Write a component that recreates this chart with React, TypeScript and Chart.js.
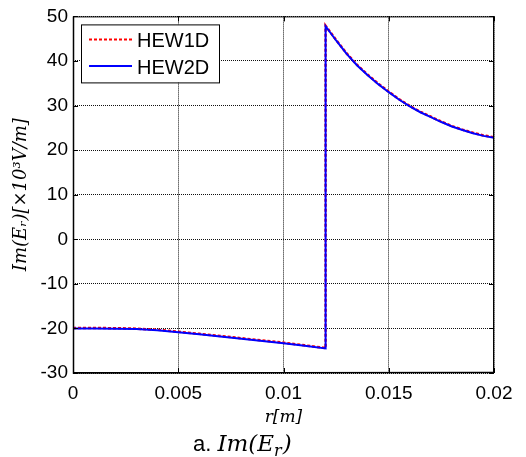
import React, { useEffect, useRef } from "react";
import { Chart, registerables } from "chart.js";

Chart.register(...registerables);

// r positions [m] (the jump at r = 0.012 appears twice)
const rValues = [
  0, 0.001, 0.002, 0.003, 0.004, 0.005, 0.006, 0.007, 0.008, 0.009, 0.01, 0.011, 0.012,
  0.012, 0.0125, 0.013, 0.0135, 0.014, 0.0145, 0.015, 0.0155, 0.016, 0.0165, 0.017,
  0.0175, 0.018, 0.0185, 0.019, 0.0195, 0.02,
];
const hew1d = [
  -19.9, -19.9, -19.95, -20.05, -20.3, -20.75, -21.2, -21.7, -22.2, -22.7, -23.2, -23.8, -24.4,
  47.9, 44.7, 41.7, 39.1, 36.9, 34.9, 33.1, 31.4, 29.9, 28.6, 27.5, 26.4, 25.4, 24.6, 23.9, 23.3, 22.9,
];
const hew2d = [
  -20.0, -20.0, -20.05, -20.15, -20.4, -20.85, -21.3, -21.8, -22.3, -22.8, -23.3, -23.9, -24.5,
  47.8, 44.6, 41.6, 39.0, 36.8, 34.8, 33.0, 31.3, 29.8, 28.5, 27.4, 26.3, 25.3, 24.5, 23.8, 23.2, 22.8,
];
const xTickValues = [0, 0.005, 0.01, 0.015, 0.02];
const xTickLabels = ["0", "0.005", "0.01", "0.015", "0.02"];
const yTickValues = [-30, -20, -10, 0, 10, 20, 30, 40, 50];
const yTickLabels = ["-30", "-20", "-10", "0", "10", "20", "30", "40", "50"];
const seriesNames = ["HEW1D", "HEW2D"];
const yTitle = "Im(E\u1D63)[\u00D710\u00B3V/m]";
const xTitle = "r[m]";

const SANS = "'Liberation Sans', Arial, Helvetica, sans-serif";
const SERIF = "'DejaVu Serif', 'Liberation Serif', serif";

const overlayPlugin = {
  id: "matlabOverlay",
  afterDraw(chart: any) {
    const { ctx, chartArea } = chart;
    const { left, right, top, bottom } = chartArea;
    const xs = chart.scales.x;
    const ys = chart.scales.y;
    ctx.save();
    // frame
    ctx.setLineDash([]);
    ctx.strokeStyle = "#000";
    ctx.lineWidth = 1;
    ctx.strokeRect(left + 0.5, top + 0.5, right - left - 1, bottom - top - 1);
    ctx.lineWidth = 1.5;
    ctx.beginPath();
    ctx.moveTo(left + 0.5, top);
    ctx.lineTo(left + 0.5, bottom);
    ctx.lineTo(right, bottom - 0.5);
    ctx.stroke();
    // inward ticks
    ctx.lineWidth = 1;
    ctx.beginPath();
    xTickValues.forEach((v) => {
      const px = Math.round(xs.getPixelForValue(v)) + 0.5;
      ctx.moveTo(px, bottom);
      ctx.lineTo(px, bottom - 5);
      ctx.moveTo(px, top);
      ctx.lineTo(px, top + 5);
    });
    yTickValues.forEach((v) => {
      const py = Math.round(ys.getPixelForValue(v)) + 0.5;
      ctx.moveTo(left, py);
      ctx.lineTo(left + 5, py);
      ctx.moveTo(right, py);
      ctx.lineTo(right - 5, py);
    });
    ctx.stroke();

    // legend
    const lx = left + 8;
    const ly = top + 8;
    const lw = 138;
    const lh = 58;
    ctx.fillStyle = "#fff";
    ctx.fillRect(lx, ly, lw, lh);
    ctx.strokeStyle = "#000";
    ctx.lineWidth = 1;
    ctx.strokeRect(lx + 0.5, ly + 0.5, lw, lh);
    const rows = [
      { name: seriesNames[0], color: "#ff0000", dash: [3, 2], y: ly + 15 },
      { name: seriesNames[1], color: "#0000ff", dash: [], y: ly + 41.5 },
    ];
    rows.forEach((r) => {
      ctx.strokeStyle = r.color;
      ctx.lineWidth = 2;
      ctx.setLineDash(r.dash);
      ctx.beginPath();
      ctx.moveTo(lx + 8, r.y);
      ctx.lineTo(lx + 51, r.y);
      ctx.stroke();
      ctx.setLineDash([]);
      ctx.fillStyle = "#000";
      ctx.font = `20px ${SANS}`;
      ctx.textBaseline = "middle";
      ctx.textAlign = "left";
      ctx.fillText(r.name, lx + 56, r.y + 2.5);
    });

    // caption "a. Im(E_r)"
    let cx = 193;
    const cy = 451;
    ctx.textBaseline = "alphabetic";
    ctx.fillStyle = "#000";
    ctx.font = `22px ${SANS}`;
    ctx.fillText("a. ", cx, cy);
    cx += ctx.measureText("a. ").width;
    ctx.font = `italic 23px ${SERIF}`;
    ctx.fillText("Im(E", cx, cy);
    cx += ctx.measureText("Im(E").width;
    ctx.font = `italic 16px ${SERIF}`;
    ctx.fillText("r", cx, cy + 5);
    cx += ctx.measureText("r").width + 1;
    ctx.font = `italic 23px ${SERIF}`;
    ctx.fillText(")", cx, cy);
    ctx.restore();
  },
};

export default function App() {
  const canvasRef = useRef<HTMLCanvasElement | null>(null);

  useEffect(() => {
    if (!canvasRef.current) return;
    const chart = new Chart(canvasRef.current, {
      type: "line",
      data: {
        datasets: [
          {
            label: seriesNames[1],
            data: rValues.map((r, i) => ({ x: r, y: hew2d[i] })),
            borderColor: "#0000ff",
            borderWidth: 2,
            pointRadius: 0,
            tension: 0,
            order: 0,
          },
          {
            label: seriesNames[0],
            data: rValues.map((r, i) => ({ x: r, y: hew1d[i] })),
            borderColor: "#ff0000",
            borderWidth: 2.5,
            borderDash: [3, 2],
            pointRadius: 0,
            tension: 0,
            order: 1,
          },
        ],
      },
      options: {
        animation: false,
        responsive: true,
        maintainAspectRatio: false,
        layout: { padding: { top: 13, right: 32, left: 0, bottom: 0 } },
        plugins: {
          legend: { display: false },
          tooltip: { enabled: false },
        },
        scales: {
          x: {
            type: "linear",
            min: 0,
            max: 0.02,
            afterBuildTicks: (scale: any) => {
              scale.ticks = xTickValues.map((v) => ({ value: v }));
            },
            afterFit: (scale: any) => {
              scale.height = 84;
            },
            ticks: {
              font: { family: SANS, size: 19 },
              color: "#000",
              padding: 9,
              maxRotation: 0,
              autoSkip: false,
              callback: (_v: any, i: number) => xTickLabels[i],
            },
            grid: { color: "#111", lineWidth: 1, drawTicks: false },
            border: { display: false, dash: [1, 1] },
            title: {
              display: true,
              text: xTitle,
              font: { family: SERIF, size: 17, style: "italic" },
              color: "#000",
              padding: { top: 0, bottom: 29 },
            },
          },
          y: {
            type: "linear",
            min: -30,
            max: 50,
            afterBuildTicks: (scale: any) => {
              scale.ticks = yTickValues.map((v) => ({ value: v }));
            },
            afterFit: (scale: any) => {
              scale.width = 73;
            },
            ticks: {
              font: { family: SANS, size: 19 },
              color: "#000",
              padding: 5,
              autoSkip: false,
              callback: (_v: any, i: number) => yTickLabels[i],
            },
            grid: { color: "#111", lineWidth: 1, drawTicks: false },
            border: { display: false, dash: [1, 1] },
            title: {
              display: true,
              text: yTitle,
              font: { family: SERIF, size: 18, style: "italic" },
              color: "#000",
              padding: { top: 11, bottom: 0 },
            },
          },
        },
      },
      plugins: [overlayPlugin],
    } as any);
    return () => chart.destroy();
  }, []);

  return (
    <div style={{ position: "absolute", left: 0, top: 0, width: 526, height: 457, background: "#fff" }}>
      <canvas ref={canvasRef} />
    </div>
  );
}
